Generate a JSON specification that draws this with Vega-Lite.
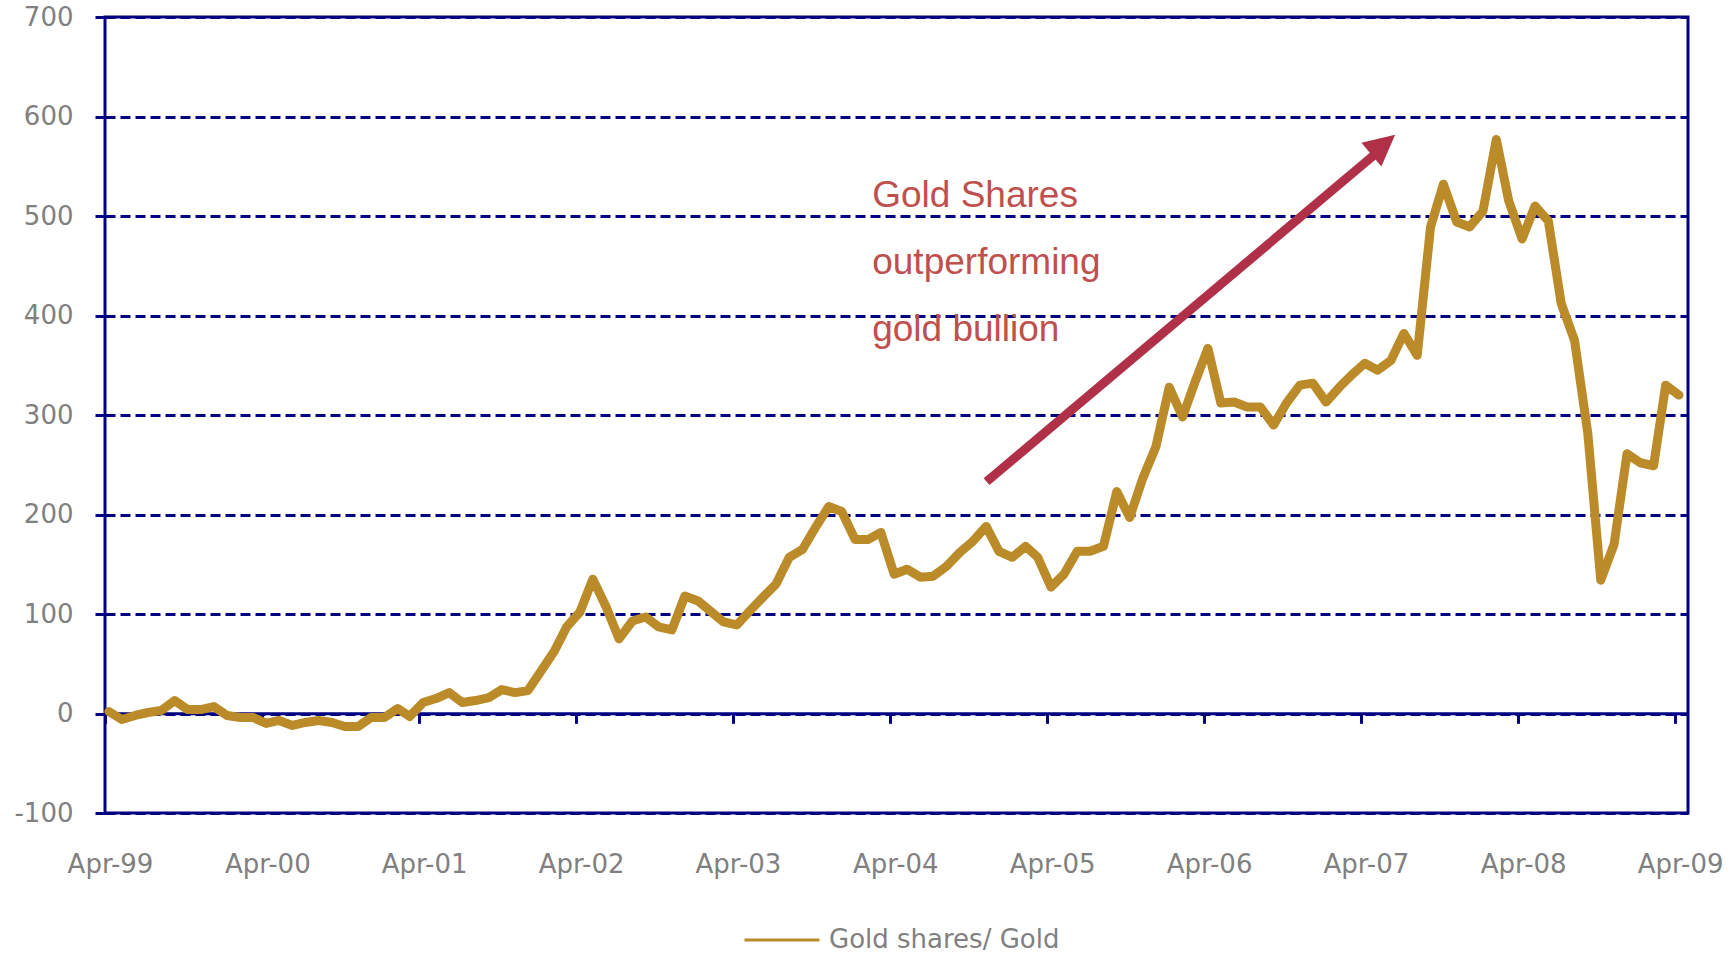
{
  "$schema": "https://vega.github.io/schema/vega-lite/v6.json",
  "width": 1583,
  "height": 796,
  "autosize": "none",
  "padding": {"left": 105, "top": 17, "right": 48, "bottom": 141},
  "background": "white",
  "config": {
    "view": {"stroke": "#000080", "strokeWidth": 3},
    "font": "DejaVu Sans"
  },
  "data": {
    "values": [
      {"date": "1999-04-10", "value": 2}, {"date": "1999-05-10", "value": -6}, {"date": "1999-06-10", "value": -2}, {"date": "1999-07-10", "value": 1},
      {"date": "1999-08-10", "value": 3}, {"date": "1999-09-10", "value": 13}, {"date": "1999-10-10", "value": 4}, {"date": "1999-11-10", "value": 4},
      {"date": "1999-12-10", "value": 7}, {"date": "2000-01-10", "value": -2}, {"date": "2000-02-10", "value": -4}, {"date": "2000-03-10", "value": -4},
      {"date": "2000-04-10", "value": -10}, {"date": "2000-05-10", "value": -7}, {"date": "2000-06-10", "value": -12}, {"date": "2000-07-10", "value": -9},
      {"date": "2000-08-10", "value": -7}, {"date": "2000-09-10", "value": -9}, {"date": "2000-10-10", "value": -13}, {"date": "2000-11-10", "value": -13},
      {"date": "2000-12-10", "value": -4}, {"date": "2001-01-10", "value": -4}, {"date": "2001-02-10", "value": 5}, {"date": "2001-03-10", "value": -3},
      {"date": "2001-04-10", "value": 11}, {"date": "2001-05-10", "value": 15}, {"date": "2001-06-10", "value": 21}, {"date": "2001-07-10", "value": 11},
      {"date": "2001-08-10", "value": 13}, {"date": "2001-09-10", "value": 16}, {"date": "2001-10-10", "value": 24}, {"date": "2001-11-10", "value": 21},
      {"date": "2001-12-10", "value": 23}, {"date": "2002-01-10", "value": 43}, {"date": "2002-02-10", "value": 63}, {"date": "2002-03-10", "value": 87},
      {"date": "2002-04-10", "value": 102}, {"date": "2002-05-10", "value": 135}, {"date": "2002-06-10", "value": 107}, {"date": "2002-07-10", "value": 75},
      {"date": "2002-08-10", "value": 93}, {"date": "2002-09-10", "value": 97}, {"date": "2002-10-10", "value": 87}, {"date": "2002-11-10", "value": 84},
      {"date": "2002-12-10", "value": 118}, {"date": "2003-01-10", "value": 113}, {"date": "2003-02-10", "value": 102}, {"date": "2003-03-10", "value": 92},
      {"date": "2003-04-10", "value": 89}, {"date": "2003-05-10", "value": 103}, {"date": "2003-06-10", "value": 117}, {"date": "2003-07-10", "value": 130},
      {"date": "2003-08-10", "value": 157}, {"date": "2003-09-10", "value": 165}, {"date": "2003-10-10", "value": 187}, {"date": "2003-11-10", "value": 208},
      {"date": "2003-12-10", "value": 203}, {"date": "2004-01-10", "value": 175}, {"date": "2004-02-10", "value": 175}, {"date": "2004-03-10", "value": 182},
      {"date": "2004-04-10", "value": 140}, {"date": "2004-05-10", "value": 145}, {"date": "2004-06-10", "value": 137}, {"date": "2004-07-10", "value": 138},
      {"date": "2004-08-10", "value": 148}, {"date": "2004-09-10", "value": 162}, {"date": "2004-10-10", "value": 173}, {"date": "2004-11-10", "value": 188},
      {"date": "2004-12-10", "value": 163}, {"date": "2005-01-10", "value": 157}, {"date": "2005-02-10", "value": 168}, {"date": "2005-03-10", "value": 157},
      {"date": "2005-04-10", "value": 127}, {"date": "2005-05-10", "value": 140}, {"date": "2005-06-10", "value": 163}, {"date": "2005-07-10", "value": 163},
      {"date": "2005-08-10", "value": 168}, {"date": "2005-09-10", "value": 223}, {"date": "2005-10-10", "value": 197}, {"date": "2005-11-10", "value": 237},
      {"date": "2005-12-10", "value": 268}, {"date": "2006-01-10", "value": 328}, {"date": "2006-02-10", "value": 298}, {"date": "2006-03-10", "value": 332},
      {"date": "2006-04-10", "value": 367}, {"date": "2006-05-10", "value": 312}, {"date": "2006-06-10", "value": 313}, {"date": "2006-07-10", "value": 308},
      {"date": "2006-08-10", "value": 308}, {"date": "2006-09-10", "value": 290}, {"date": "2006-10-10", "value": 312}, {"date": "2006-11-10", "value": 330},
      {"date": "2006-12-10", "value": 332}, {"date": "2007-01-10", "value": 313}, {"date": "2007-02-10", "value": 328}, {"date": "2007-03-10", "value": 340},
      {"date": "2007-04-10", "value": 352}, {"date": "2007-05-10", "value": 345}, {"date": "2007-06-10", "value": 355}, {"date": "2007-07-10", "value": 382},
      {"date": "2007-08-10", "value": 360}, {"date": "2007-09-10", "value": 489}, {"date": "2007-10-10", "value": 532}, {"date": "2007-11-10", "value": 494},
      {"date": "2007-12-10", "value": 489}, {"date": "2008-01-10", "value": 505}, {"date": "2008-02-10", "value": 577}, {"date": "2008-03-10", "value": 515},
      {"date": "2008-04-10", "value": 477}, {"date": "2008-05-10", "value": 510}, {"date": "2008-06-10", "value": 495}, {"date": "2008-07-10", "value": 412},
      {"date": "2008-08-10", "value": 375}, {"date": "2008-09-10", "value": 281}, {"date": "2008-10-10", "value": 134}, {"date": "2008-11-10", "value": 170},
      {"date": "2008-12-10", "value": 261}, {"date": "2009-01-10", "value": 252}, {"date": "2009-02-10", "value": 249}, {"date": "2009-03-10", "value": 330},
      {"date": "2009-04-10", "value": 320}
    ]
  },
  "layer": [
    {
      "mark": {"type": "line", "strokeWidth": 9, "strokeJoin": "round", "strokeCap": "round"},
      "encoding": {
        "x": {
          "field": "date", "type": "temporal",
          "scale": {"domain": [{"year": 1999, "month": 4, "date": 1}, {"year": 2009, "month": 5, "date": 1}]},
          "axis": {
            "title": null,
            "values": [
              {"year": 1999, "month": 4, "date": 1}, {"year": 2000, "month": 4, "date": 1}, {"year": 2001, "month": 4, "date": 1},
              {"year": 2002, "month": 4, "date": 1}, {"year": 2003, "month": 4, "date": 1}, {"year": 2004, "month": 4, "date": 1},
              {"year": 2005, "month": 4, "date": 1}, {"year": 2006, "month": 4, "date": 1}, {"year": 2007, "month": 4, "date": 1},
              {"year": 2008, "month": 4, "date": 1}, {"year": 2009, "month": 4, "date": 1}
            ],
            "format": "%b-%y",
            "offset": -99.7,
            "domain": true, "domainColor": "#000080", "domainWidth": 3,
            "ticks": true, "tickColor": "#000080", "tickWidth": 3, "tickSize": 10,
            "grid": false,
            "labelFont": "DejaVu Sans", "labelFontSize": 26, "labelColor": "#808080",
            "labelPadding": 128, "labelFlush": false, "labelOverlap": false, "labelOffset": 5
          }
        },
        "y": {
          "field": "value", "type": "quantitative",
          "scale": {"domain": [-100, 700], "nice": false},
          "axis": {
            "title": null,
            "values": [-100, 0, 100, 200, 300, 400, 500, 600, 700],
            "labelExpr": "'' + datum.value",
            "domain": false,
            "ticks": true, "tickColor": "#000080", "tickWidth": 3, "tickSize": 10,
            "grid": true, "gridColor": "#000080", "gridWidth": 3, "gridDash": [10, 5], "gridOpacity": 1,
            "labelFont": "DejaVu Sans", "labelFontSize": 26, "labelColor": "#808080",
            "labelPadding": 22
          }
        },
        "color": {
          "datum": "Gold shares/ Gold",
          "scale": {"range": ["#BA8B28"]},
          "legend": {
            "title": null, "orient": "none", "legendX": 638, "legendY": 884,
            "symbolType": "stroke", "symbolSize": 5625, "symbolStrokeWidth": 3,
            "labelFont": "DejaVu Sans", "labelFontSize": 26, "labelColor": "#808080",
            "labelOffset": 8, "labelLimit": 0, "padding": 0
          }
        }
      }
    },
    {
      "data": {"values": [{}]},
      "mark": {"type": "rule", "color": "#B03048", "strokeWidth": 9, "strokeCap": "butt"},
      "encoding": {
        "x": {"datum": {"year": 2004, "month": 11, "date": 11}, "type": "temporal"},
        "y": {"datum": 233},
        "x2": {"datum": {"year": 2007, "month": 5, "date": 20}},
        "y2": {"datum": 568}
      }
    },
    {
      "data": {"values": [{}]},
      "mark": {"type": "point", "shape": "M0,-1L-1,1L1,1Z", "filled": true, "color": "#B03048", "opacity": 1, "size": 961, "angle": 50},
      "encoding": {
        "x": {"datum": {"year": 2007, "month": 5, "date": 23}, "type": "temporal"},
        "y": {"datum": 571.6}
      }
    },
    {
      "data": {"values": [{}]},
      "mark": {
        "type": "text", "text": "Gold Shares\noutperforming\ngold bullion", "lineBreak": "\n", "lineHeight": 67,
        "font": "Liberation Sans", "fontSize": 37, "color": "#C0504D", "align": "left", "baseline": "alphabetic"
      },
      "encoding": {
        "x": {"datum": {"year": 2004, "month": 2, "date": 19}, "type": "temporal"},
        "y": {"datum": 509}
      }
    }
  ]
}
